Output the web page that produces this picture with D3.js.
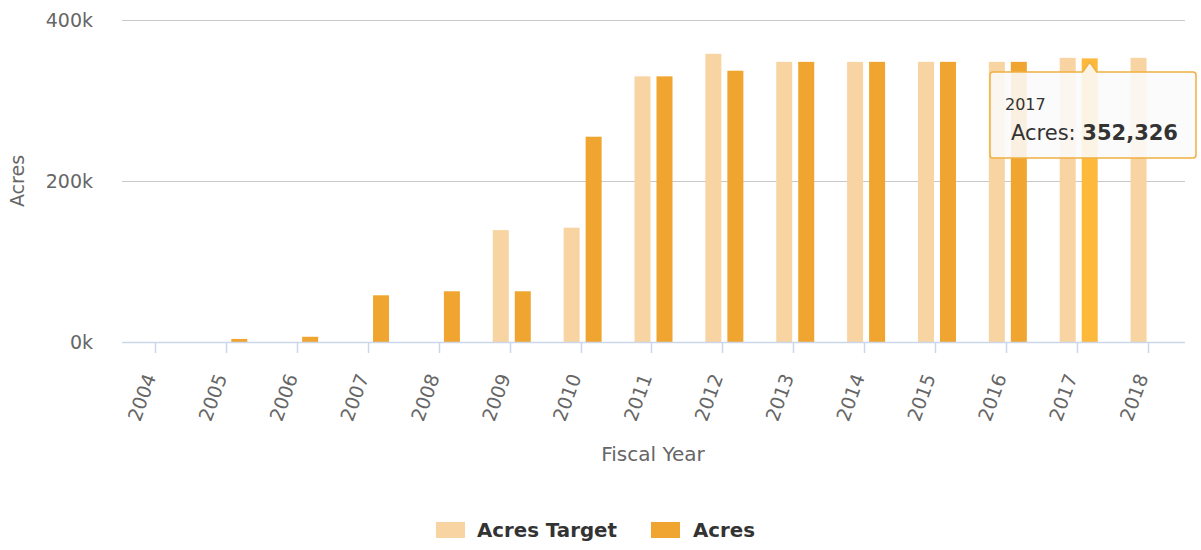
<!DOCTYPE html>
<html><head><meta charset="utf-8">
<script src="https://cdn.jsdelivr.net/npm/d3@7/dist/d3.min.js"></script>
<style>
html,body{margin:0;padding:0;background:#fff;}
svg{display:block;font-family:"DejaVu Sans",Verdana,sans-serif;}
</style></head><body>
<svg id="c" width="1201" height="550"></svg>
<script>
const years = ["2004","2005","2006","2007","2008","2009","2010","2011","2012","2013","2014","2015","2016","2017","2018"];
const acresTarget = [0,0,0,0,0,139000,142000,330000,358000,348000,348000,348000,348000,353000,353000];
const acres = [0,3800,6500,58000,63000,63000,255000,330000,337000,348000,348000,348000,348000,352326,null];
const yTicks = [0,200000,400000];
const seriesNames = ["Acres Target","Acres"];
const hoverIndex = 13;

const colTarget = "#f8d4a2", colAcres = "#efa52f", colHover = "#fdb93c";
const svg = d3.select("#c");
const L = 122, R = 1185, T = 20, B = 342;

const x = d3.scaleBand().domain(years).range([L, R]).paddingInner(0).paddingOuter(0);
const y = d3.scaleLinear().domain([0, 400000]).range([B, T]);

// grid
svg.append("g").selectAll("line").data(yTicks.filter(d=>d>0)).join("line")
  .attr("x1", L).attr("x2", R).attr("y1", d=>y(d)+0.5).attr("y2", d=>y(d)+0.5)
  .attr("stroke", "#c8c8c8").attr("stroke-width", 1);

// y labels
svg.append("g").selectAll("text").data(yTicks).join("text")
  .attr("x", 93).attr("y", d=>y(d)+7).attr("text-anchor","end")
  .attr("fill","#666").style("font-size","19px")
  .text(d=>(d/1000)+"k");

svg.append("text").attr("transform", `translate(24,${(T+B)/2}) rotate(-90)`)
  .attr("text-anchor","middle").attr("fill","#666").style("font-size","19px").text("Acres");

// bars
const bw = 16, gap = 3;
const cx = d => x(d) + x.bandwidth()/2;
svg.append("g").selectAll("rect").data(years.map((d,i)=>({d,v:acresTarget[i]})).filter(o=>o.v>0)).join("rect")
  .attr("x", o=>cx(o.d)-gap-bw).attr("width", bw)
  .attr("y", o=>y(o.v)).attr("height", o=>B-y(o.v)).attr("fill", colTarget);
svg.append("g").selectAll("rect").data(years.map((d,i)=>({d,v:acres[i],i})).filter(o=>o.v)).join("rect")
  .attr("x", o=>cx(o.d)+gap).attr("width", bw)
  .attr("y", o=>y(o.v)).attr("height", o=>B-y(o.v)).attr("fill", o=>o.i===hoverIndex?colHover:colAcres);

// x axis
svg.append("line").attr("x1", L).attr("x2", R).attr("y1", B+0.5).attr("y2", B+0.5)
  .attr("stroke","#ccd6eb").attr("stroke-width",1.5);
svg.append("g").selectAll("line").data(years).join("line")
  .attr("x1", d=>Math.round(cx(d))-1.5).attr("x2", d=>Math.round(cx(d))-1.5)
  .attr("y1", B).attr("y2", B+11).attr("stroke","#ccd6eb").attr("stroke-width",1.5);
svg.append("g").selectAll("text").data(years).join("text")
  .attr("transform", d=>`translate(${cx(d)-1},${B+35}) rotate(-70)`)
  .attr("text-anchor","end").attr("fill","#666").style("font-size","19px").text(d=>d);

svg.append("text").attr("x", 653).attr("y", 461).attr("text-anchor","middle")
  .attr("fill","#666").style("font-size","20px").text("Fiscal Year");

// legend
const leg = [{n:seriesNames[0],c:colTarget,x:436,tx:477},{n:seriesNames[1],c:colAcres,x:651,tx:693}];
const lg = svg.append("g");
leg.forEach(o=>{
  lg.append("rect").attr("x",o.x).attr("y",522).attr("width",29).attr("height",16).attr("fill",o.c);
  lg.append("text").attr("x",o.tx).attr("y",537).attr("fill","#333").style("font-size","19.8px")
    .style("font-weight","bold").text(o.n);
});

// tooltip
const hx = cx(years[hoverIndex]) + gap + bw/2;
const tt = svg.append("g");
const bx0 = 990, bx1 = 1196, by0 = 72, by1 = 158;
tt.append("path")
  .attr("d", `M${bx0+3},${by0} L${hx-7},${by0} L${hx},${by0-10} L${hx+7},${by0} L${bx1-3},${by0} Q${bx1},${by0} ${bx1},${by0+3} L${bx1},${by1-3} Q${bx1},${by1} ${bx1-3},${by1} L${bx0+3},${by1} Q${bx0},${by1} ${bx0},${by1-3} L${bx0},${by0+3} Q${bx0},${by0} ${bx0+3},${by0} Z`)
  .attr("fill","rgba(250,250,250,0.88)").attr("stroke","#f0b040").attr("stroke-width",1.5);
tt.append("text").attr("x",1005).attr("y",110).attr("fill","#333").style("font-size","16px").text(years[hoverIndex]);
const t2 = tt.append("text").attr("x",1011).attr("y",140).attr("fill","#333").style("font-size","21px");
t2.append("tspan").text(seriesNames[1] + ": ");
t2.append("tspan").style("font-weight","bold").text(d3.format(",")(acres[hoverIndex]));
</script>
</body></html>
